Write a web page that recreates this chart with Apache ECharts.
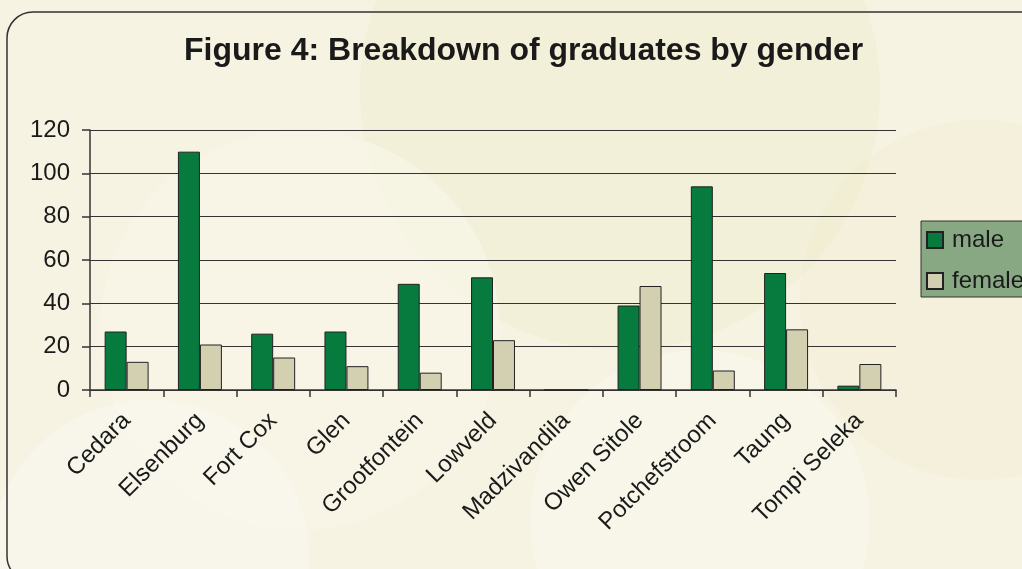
<!DOCTYPE html>
<html lang="en" style="height: 100%">
<head>
  <meta charset="utf-8">
</head>
<body style="height: 100%; margin: 0; background: #f6f3e2">
  <div id="container" style="width: 1022px; height: 569px"></div>

  <script type="text/javascript" src="https://cdn.jsdelivr.net/npm/echarts@6/dist/echarts.min.js"></script>

  <script type="text/javascript">
    var colleges = ['Cedara', 'Elsenburg', 'Fort Cox', 'Glen', 'Grootfontein', 'Lowveld',
      'Madzivandila', 'Owen Sitole', 'Potchefstroom', 'Taung', 'Tompi Seleka'];
    var male = [27, 110, 26, 27, 49, 52, 0, 39, 94, 54, 2];
    var female = [13, 21, 15, 11, 8, 23, 0, 48, 9, 28, 12];
    var yTicks = [0, 20, 40, 60, 80, 100, 120];

    var dom = document.getElementById('container');
    var myChart = echarts.init(dom, null, { renderer: 'canvas' });

    var font = 'Liberation Sans, Arial, sans-serif';

    var option = {
      backgroundColor: '#f6f3e2',
      animation: false,
      graphic: [
        // faint background blobs
        { type: 'circle', silent: true, z: -10, shape: { cx: 620, cy: 90, r: 260 }, style: { fill: 'rgba(236,230,190,0.25)' } },
        { type: 'circle', silent: true, z: -10, shape: { cx: 300, cy: 330, r: 200 }, style: { fill: 'rgba(250,248,236,0.5)' } },
        { type: 'circle', silent: true, z: -10, shape: { cx: 980, cy: 300, r: 180 }, style: { fill: 'rgba(238,233,200,0.25)' } },
        { type: 'circle', silent: true, z: -10, shape: { cx: 150, cy: 560, r: 160 }, style: { fill: 'rgba(250,249,240,0.6)' } },
        { type: 'circle', silent: true, z: -10, shape: { cx: 700, cy: 520, r: 170 }, style: { fill: 'rgba(250,249,240,0.5)' } },
        {
          type: 'rect', silent: true, z: -5,
          shape: { x: 7, y: 12, width: 1040, height: 570, r: 26 },
          style: { fill: 'none', stroke: '#333', lineWidth: 1.5 }
        }
      ],
      title: {
        text: 'Figure 4: Breakdown of graduates by gender',
        left: 179,
        top: 30,
        textStyle: { fontFamily: font, fontSize: 32, fontWeight: 'bold', color: '#1a1a1a' }
      },
      legend: {
        orient: 'vertical',
        left: 921,
        top: 221,
        padding: [7, 40, 4, 5],
        itemGap: 17,
        itemWidth: 16,
        itemHeight: 16,
        icon: 'rect',
        backgroundColor: '#87a882',
        borderColor: '#333',
        borderWidth: 1,
        textStyle: { fontFamily: font, fontSize: 24, color: '#1a1a1a', padding: [0, 0, 0, 4] },
        data: ['male', 'female']
      },
      grid: {
        left: 90,
        right: 126,
        top: 130,
        bottom: 179
      },
      xAxis: {
        type: 'category',
        data: colleges,
        axisLine: { lineStyle: { color: '#333', width: 1.5 } },
        axisTick: { show: true, length: 7, lineStyle: { color: '#333', width: 1.5 } },
        axisLabel: {
          rotate: 45,
          interval: 0,
          margin: 27,
          fontFamily: font,
          fontSize: 24,
          color: '#1a1a1a'
        }
      },
      yAxis: {
        type: 'value',
        min: 0,
        max: 120,
        interval: 20,
        axisLine: { show: true, lineStyle: { color: '#333', width: 1.5 } },
        axisTick: { show: true, length: 8, lineStyle: { color: '#333', width: 1.5 } },
        splitLine: { lineStyle: { color: '#333', width: 1.2 } },
        axisLabel: {
          margin: 20,
          fontFamily: font,
          fontSize: 24,
          color: '#1a1a1a',
          formatter: function (v) { return yTicks.indexOf(v) >= 0 ? String(v) : ''; }
        }
      },
      series: [
        {
          name: 'male',
          type: 'bar',
          data: male,
          barGap: '0%',
          barCategoryGap: '40%',
          itemStyle: { color: '#077a3e', borderColor: '#222', borderWidth: 1 }
        },
        {
          name: 'female',
          type: 'bar',
          data: female,
          itemStyle: { color: '#d3cfb1', borderColor: '#222', borderWidth: 1 }
        }
      ]
    };

    myChart.setOption(option);
    window.addEventListener('resize', myChart.resize);
  </script>
</body>
</html>
